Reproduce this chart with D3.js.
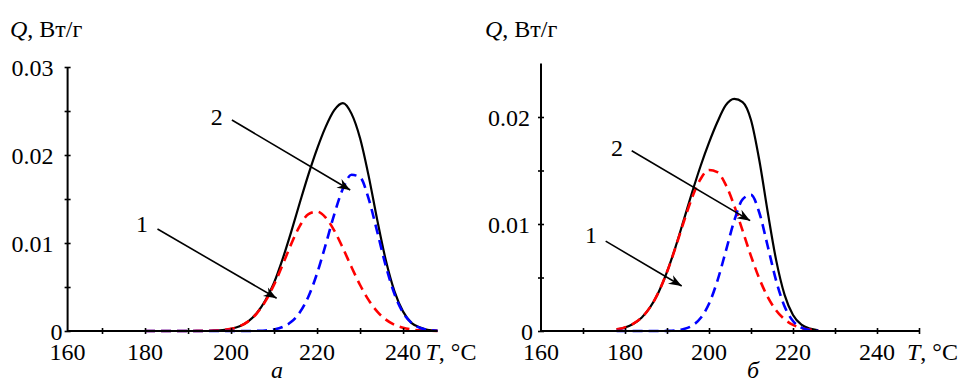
<!DOCTYPE html>
<html>
<head>
<meta charset="utf-8">
<script src="https://cdn.jsdelivr.net/npm/d3@7"></script>
<style>
  html, body { margin: 0; padding: 0; background: #fff; }
  svg, svg text { font-family: "Liberation Serif", "Times New Roman", "DejaVu Serif", serif; }
  svg { display: block; }
</style>
</head>
<body>
<svg id="chart" width="965" height="381"></svg>
<script>
// ---- Panel "а" : heat flow Q (W/g) vs temperature T (°C) ----
const tempA = [180,182,184,186,188,190,192,194,196,198,200,202,204,206,208,210,212,214,216,218,
               220,222,224,226,228,230,232,234,236,238,240,242,244,246,248];
const totalA = [0,0,0,0,0,0,0,0,0.00004,0.0001,0.00025,0.00054,0.0011,0.00205,0.0035,0.0055,0.0082,0.0113,0.0146,0.0178,
                0.0207,0.0232,0.0251,0.0259,0.0247,0.0219,0.0176,0.0126,0.0080,0.0045,0.0022,0.0009,0.0004,0.0001,0.00003];
const peak1A = [0,0,0,0,0,0,0.00001,0.00002,0.00004,0.0001,0.00025,0.00054,0.00109,0.00201,0.00339,0.00527,0.00753,0.0099,0.01195,0.01329,
                0.01357,0.01288,0.01141,0.00943,0.00727,0.00523,0.00351,0.0022,0.00129,0.0007,0.00036,0.00017,0.00007,0.00003,0.00001];
const peak2A = [0,0,0,0,0,0,0,0,0,0,0,0,0,0.00002,0.00006,0.00018,0.00046,0.00104,0.00213,0.00393,
                0.00654,0.00981,0.01326,0.01616,0.01775,0.01747,0.01501,0.01125,0.00736,0.00419,0.00208,0.0009,0.00034,0.00011,0.00003];

// ---- Panel "б" ----
const tempB = [178,180,182,184,186,188,190,192,194,196,198,200,202,204,206,208,210,212,214,216,218,220,222,224,226];
const totalB = [0.00015,0.00033,0.00068,0.00127,0.00223,0.00363,0.00552,0.00782,0.01039,0.01299,0.01542,0.0176,0.01953,
                0.0211,0.0217,0.0214,0.01972,0.01591,0.01107,0.0066,0.00338,0.0015,0.00059,0.00022,0.00007];
const peak1B = [0.00015,0.00033,0.00068,0.00127,0.00223,0.00363,0.00551,0.00777,0.01021,0.01249,0.01421,0.01505,0.01484,
                0.01366,0.01172,0.00938,0.007,0.00488,0.00317,0.00192,0.00109,0.00057,0.00028,0.00013,0.00005];
const peak2B = [0,0,0,0,0,0,0.00001,0.00005,0.00018,0.0005,0.00121,0.00255,0.00469,
                0.00746,0.01029,0.0123,0.01272,0.01103,0.0079,0.00468,0.00229,0.00093,0.00031,0.00009,0.00002];

// Axis ticks and labels
const xTicksA = [170,180,190,200,210,220,230,240];
const xLabelsA = [160,180,200,220,240];
const yTicksA = [0,0.005,0.01,0.015,0.02,0.025,0.03];
const yLabelsA = [0,0.01,0.02,0.03];

const xTicksB = [170,180,190,200,210,220,230,240,250];
const xLabelsB = [160,180,200,220,240];
const yTicksB = [0,0.005,0.01,0.015,0.02];
const yLabelsB = [0,0.01,0.02];

// Curve labels "1", "2" with their leader arrows, in data units [T, Q]
const notesA = [
  { text: "1", label: [179.3, 0.0113], from: [182.9, 0.01159], to: [210.6, 0.00372] },
  { text: "2", label: [196.7, 0.0234], from: [200.2, 0.02398], to: [227.7, 0.01602] }
];
const notesB = [
  { text: "1", label: [171.9, 0.00822], from: [175.4, 0.0084], to: [193.5, 0.0042] },
  { text: "2", label: [178.1, 0.01636], from: [181.6, 0.01685], to: [209.8, 0.01031] }
];

const svg = d3.select("#chart");
const FONT = 24;
const SERIF = "'Liberation Serif', 'Times New Roman', 'DejaVu Serif', serif";

// Arrowhead used by the leader lines
svg.append("defs").append("marker")
  .attr("id", "arrowhead")
  .attr("viewBox", "-14 -6 16 12")
  .attr("refX", 0).attr("refY", 0)
  .attr("markerWidth", 16).attr("markerHeight", 12)
  .attr("markerUnits", "userSpaceOnUse")
  .attr("orient", "auto")
  .append("path")
  .attr("d", "M0,0 L-13,-5 L-9,0 L-13,5 Z")
  .attr("fill", "#000");

function drawPanel(p) {
  const x = d3.scaleLinear().domain(p.xDomain).range(p.xRange);
  const y = d3.scaleLinear().domain(p.yDomain).range(p.yRange);
  const g = svg.append("g").attr("font-family", SERIF);
  const xo = x(p.originT);
  const yo = y(0);

  // curves: total (solid), peak 1 (red dashed), peak 2 (blue dashed)
  const line = vals => d3.line()
    .x((d, i) => x(p.temp[i]))
    .y(d => y(d))
    .curve(d3.curveMonotoneX)(vals);

  g.append("path").attr("d", line(p.total))
    .attr("fill", "none").attr("stroke", "#000").attr("stroke-width", 2.2);
  g.append("path").attr("d", line(p.peak1))
    .attr("fill", "none").attr("stroke", "#ff0000").attr("stroke-width", 2.6)
    .attr("stroke-dasharray", "10,6");
  g.append("path").attr("d", line(p.peak2))
    .attr("fill", "none").attr("stroke", "#0000ff").attr("stroke-width", 2.6)
    .attr("stroke-dasharray", "10,6");

  // x axis: line, crossing ticks, labels
  g.append("line")
    .attr("x1", xo).attr("x2", x(p.xEnd)).attr("y1", yo).attr("y2", yo)
    .attr("stroke", "#000").attr("stroke-width", 2);
  const xt = g.append("g").attr("transform", `translate(0,${yo - 3})`)
    .call(d3.axisBottom(x).tickValues(p.xTicks).tickSize(6).tickFormat(""));
  xt.select(".domain").remove();
  xt.selectAll(".tick line").attr("stroke-width", 1.6);

  const xl = g.append("g").attr("transform", `translate(0,${yo})`)
    .call(d3.axisBottom(x).tickValues(p.xLabels).tickSize(0).tickPadding(0).tickFormat(d3.format("d")));
  xl.attr("font-family", SERIF).attr("font-size", FONT);
  xl.select(".domain").remove();
  xl.selectAll(".tick")
    .attr("transform", d => `translate(${Math.max(x(d), xo)},0)`);
  xl.selectAll(".tick text")
    .attr("fill", "#000").attr("y", 29).attr("dy", 0);

  // y axis: line, crossing ticks, labels
  g.append("line")
    .attr("x1", xo).attr("x2", xo).attr("y1", yo).attr("y2", y(p.yDomain[1]))
    .attr("stroke", "#000").attr("stroke-width", 2);
  const yt = g.append("g").attr("transform", `translate(${xo + 3},0)`)
    .call(d3.axisLeft(y).tickValues(p.yTicks).tickSize(6).tickFormat(""));
  yt.select(".domain").remove();
  yt.selectAll(".tick line").attr("stroke-width", 1.6);

  const yl = g.append("g").attr("transform", `translate(${xo},0)`)
    .call(d3.axisLeft(y).tickValues(p.yLabels).tickSize(0)
      .tickFormat(d => d === 0 ? "0" : d3.format(".2f")(d)));
  yl.attr("font-family", SERIF).attr("font-size", FONT);
  yl.select(".domain").remove();
  yl.selectAll(".tick text")
    .attr("fill", "#000")
    .attr("dy", "0.34em")
    .attr("x", d => d === 0 ? -p.zeroPad : -p.labelPad);

  // axis titles
  const qt = g.append("text").attr("x", p.qTitle[0]).attr("y", p.qTitle[1])
    .attr("font-size", FONT).attr("fill", "#000");
  qt.append("tspan").attr("font-style", "italic").text("Q");
  qt.append("tspan").text(", Вт/г");

  const tt = g.append("text").attr("x", x(p.xEnd) + p.tTitleDx).attr("y", yo + 29)
    .attr("font-size", FONT).attr("fill", "#000");
  tt.append("tspan").attr("font-style", "italic").text("T");
  tt.append("tspan").text(", °C");

  // panel letter
  g.append("text").attr("x", p.letterX).attr("y", 378)
    .attr("text-anchor", "middle").attr("font-size", FONT).attr("font-style", "italic")
    .attr("fill", "#000").text(p.letter);

  // curve numbers with arrows
  p.notes.forEach(n => {
    g.append("text").attr("x", x(n.label[0])).attr("y", y(n.label[1]))
      .attr("text-anchor", "middle").attr("font-size", FONT).attr("fill", "#000")
      .text(n.text);
    g.append("line")
      .attr("x1", x(n.from[0])).attr("y1", y(n.from[1]))
      .attr("x2", x(n.to[0])).attr("y2", y(n.to[1]))
      .attr("stroke", "#000").attr("stroke-width", 1.6)
      .attr("marker-end", "url(#arrowhead)");
  });
}

drawPanel({
  temp: tempA, total: totalA, peak1: peak1A, peak2: peak2A,
  xDomain: [160, 248], xRange: [59, 437.5], originT: 162, xEnd: 248,
  yDomain: [0, 0.03], yRange: [331, 67],
  xTicks: xTicksA, xLabels: xLabelsA, yTicks: yTicksA, yLabels: yLabelsA,
  labelPad: 14, zeroPad: 5,
  qTitle: [10, 37], tTitleDx: -12,
  letter: "а", letterX: 277, notes: notesA
});

drawPanel({
  temp: tempB, total: totalB, peak1: peak1B, peak2: peak2B,
  xDomain: [160, 250], xRange: [541, 919], originT: 160, xEnd: 250,
  yDomain: [0, 0.025], yRange: [331, 63.5],
  xTicks: xTicksB, xLabels: xLabelsB, yTicks: yTicksB, yLabels: yLabelsB,
  labelPad: 11, zeroPad: 8,
  qTitle: [485, 37], tTitleDx: -12,
  letter: "б", letterX: 753, notes: notesB
});
</script>
</body>
</html>
